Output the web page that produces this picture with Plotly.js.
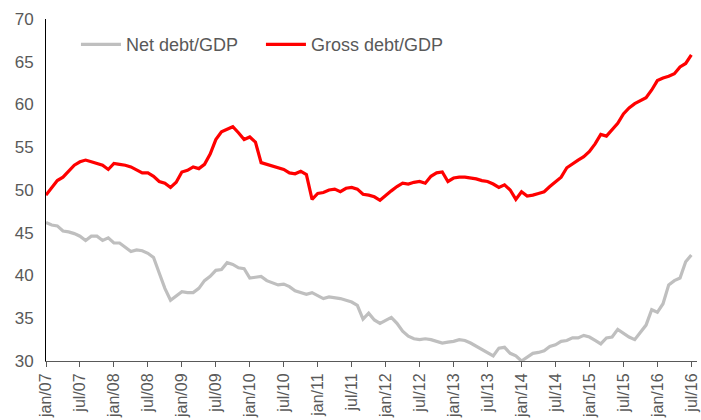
<!DOCTYPE html>
<html>
<head>
<meta charset="utf-8">
<script src="https://cdn.plot.ly/plotly-3.0.1.min.js"></script>
<style>
html,body{margin:0;padding:0;background:#fff;}
#chart{width:701px;height:420px;}
</style>
</head>
<body>
<div id="chart"></div>
<script>
var monthNames = ["jan","feb","mar","apr","may","jun","jul","aug","sep","oct","nov","dec"];
var startYear = 2007;
var nMonths = 115; // jan/07 .. jul/16

var netDebt = [
46.2,45.9,45.8,45.2,45.1,44.9,44.6,44.1,44.6,44.6,44.1,44.4,
43.8,43.8,43.3,42.8,43.0,42.9,42.6,42.1,40.3,38.5,37.1,37.6,
38.1,38.0,38.0,38.5,39.4,39.9,40.6,40.7,41.5,41.3,40.9,40.8,
39.7,39.8,39.9,39.4,39.1,38.9,39.0,38.7,38.2,38.0,37.8,38.0,
37.6,37.3,37.5,37.4,37.3,37.1,36.9,36.5,34.9,35.6,34.8,34.4,
34.8,35.1,34.4,33.5,32.9,32.6,32.5,32.6,32.5,32.3,32.1,32.2,
32.3,32.5,32.4,32.1,31.7,31.3,30.9,30.6,31.5,31.6,30.9,30.6,
30.0,30.4,30.9,31.0,31.2,31.7,31.9,32.3,32.4,32.7,32.7,33.0,
32.8,32.4,32.0,32.7,32.8,33.7,33.2,32.8,32.5,33.3,34.2,36.0,
35.7,36.7,38.9,39.4,39.7,41.6,42.4
];

var grossDebt = [
49.4,50.2,51.1,51.5,52.2,52.9,53.3,53.5,53.3,53.1,52.9,52.4,
53.1,53.0,52.9,52.7,52.3,52.0,52.0,51.6,51.0,50.8,50.3,50.9,
52.1,52.3,52.7,52.5,53.0,54.2,55.9,56.8,57.1,57.4,56.7,55.9,
56.2,55.6,53.2,53.0,52.8,52.6,52.4,52.0,51.9,52.2,51.8,48.9,
49.6,49.7,50.0,50.1,49.8,50.2,50.3,50.1,49.5,49.4,49.2,48.8,
49.4,49.9,50.4,50.8,50.7,50.9,51.0,50.8,51.6,52.0,52.1,51.0,
51.4,51.5,51.5,51.4,51.3,51.1,51.0,50.7,50.3,50.6,50.0,48.9,
49.8,49.3,49.4,49.6,49.8,50.4,51.0,51.5,52.6,53.1,53.5,53.9,
54.5,55.4,56.5,56.3,57.0,57.8,58.9,59.6,60.1,60.4,60.8,61.7,
62.8,63.1,63.3,63.6,64.4,64.8,65.8
];

var categories = [];
for (var i = 0; i < nMonths; i++) {
  var yy = startYear + Math.floor(i / 12);
  categories.push(monthNames[i % 12] + "/" + String(yy).slice(2));
}
var tickLabels = categories.filter(function(c, i){ return i % 6 === 0; });

var textColor = "#595959";
var fontFam = "Liberation Sans, Arial, sans-serif";

var traces = [
  {x: categories, y: netDebt, type: "scatter", mode: "lines", name: "Net debt/GDP",
   line: {color: "#BFBFBF", width: 3.2}},
  {x: categories, y: grossDebt, type: "scatter", mode: "lines", name: "Gross debt/GDP",
   line: {color: "#FF0000", width: 3.2}}
];

var layout = {
  width: 701, height: 420,
  margin: {l: 46, r: 4, t: 19, b: 59, pad: 0},
  paper_bgcolor: "#fff", plot_bgcolor: "#fff",
  font: {family: fontFam, color: textColor, size: 16},
  showlegend: true,
  legend: {orientation: "h", x: 0.046, xanchor: "left", y: 0.925, yanchor: "middle",
           font: {size: 18, color: textColor}, bgcolor: "rgba(0,0,0,0)", itemwidth: 40,
           entrywidth: 130, tracegroupgap: 0},
  xaxis: {
    type: "category", range: [0, nMonths], tickmode: "array", tickvals: tickLabels, ticktext: tickLabels,
    tickangle: -90, ticks: "outside", ticklen: 5, tickcolor: "#595959", tickwidth: 1,
    showline: true, linecolor: "#595959", linewidth: 1, showgrid: false, zeroline: false,
    tickfont: {size: 16, color: textColor}, automargin: false
  },
  yaxis: {
    range: [30, 70], dtick: 5, tick0: 30, ticks: "", showline: true, linecolor: "#000", linewidth: 1,
    showgrid: false, zeroline: false, tickfont: {size: 17, color: textColor}, ticklabelstandoff: 8,
    automargin: false
  }
};

Plotly.newPlot("chart", traces, layout, {displayModeBar: false, staticPlot: true});
</script>
</body>
</html>
